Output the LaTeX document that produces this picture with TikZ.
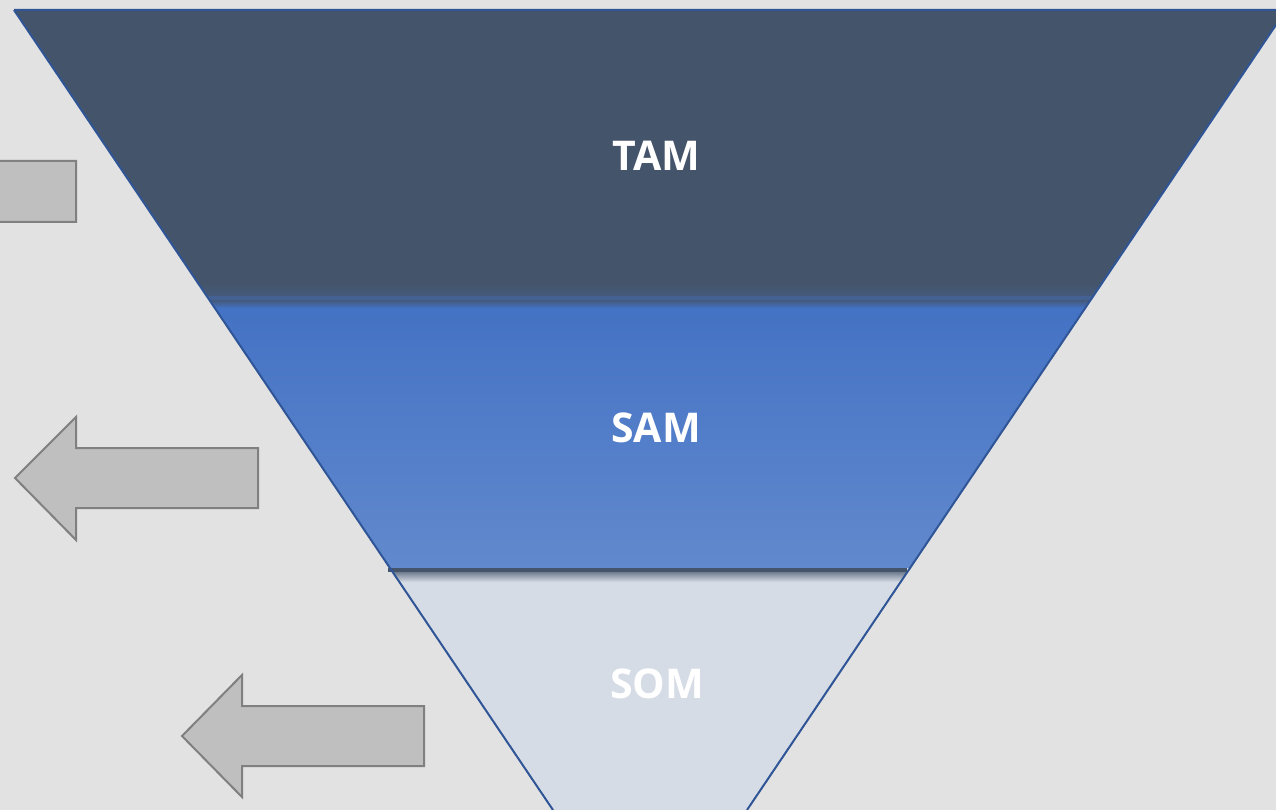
\documentclass[tikz,border=0pt]{standalone}
\usepackage{fontspec}
\setmainfont{Open Sans}
\definecolor{bg}{HTML}{E2E2E2}
\definecolor{tamc}{HTML}{44546A}
\definecolor{samtop}{HTML}{4472C4}
\definecolor{sambot}{HTML}{6189CD}
\definecolor{somc}{HTML}{D6DCE5}
\definecolor{edge}{HTML}{2F5597}
\definecolor{arrfill}{HTML}{BFBFBF}
\definecolor{arrdraw}{HTML}{808080}
\tikzset{
  lbl/.style={text=white, font=\fontsize{41}{48}\selectfont\bfseries, inner sep=0pt},
  grayarrow/.style={fill=arrfill, draw=arrdraw, line width=2pt, line join=miter},
}
\begin{document}
\begin{tikzpicture}[x=1pt,y=-1pt]
\fill[bg] (0,0) rectangle (1276,810);
\useasboundingbox (0,0) rectangle (1276,810);
\begin{scope}
\clip (0,0) rectangle (1276,810);
% funnel layers
\begin{scope}
\clip (14,10) -- (1286,10) -- (747,810) -- (553,810) -- cycle;
\fill[tamc] (0,0) rectangle (1300,300);
\shade[top color=tamc, bottom color=tamc!80!samtop] (0,283) rectangle (1300,296);
\fill[tamc!55!samtop] (0,296) rectangle (1300,300);
\shade[top color=tamc!85!samtop, bottom color=samtop] (0,300) rectangle (1300,308);
\shade[top color=samtop, bottom color=sambot] (0,308) rectangle (1300,568);
\fill[somc] (0,568) rectangle (1300,820);
\shade[top color=tamc!70!somc, bottom color=somc] (0,572) rectangle (1300,582);
\end{scope}
\fill[tamc] (388,568) rectangle (907,572);
\draw[edge, line width=2pt, line join=miter] (14,10) -- (1286,10) -- (747,810) (553,810) -- (14,10);
% arrows
\draw[grayarrow] (-167,191.5) -- (-106,130) -- (-106,161) -- (76,161) -- (76,222) -- (-106,222) -- (-106,253) -- cycle;
\draw[grayarrow] (15,478) -- (76,417) -- (76,448) -- (258,448) -- (258,508) -- (76,508) -- (76,540) -- cycle;
\draw[grayarrow] (182,736) -- (242,675) -- (242,706) -- (424,706) -- (424,766) -- (242,766) -- (242,797) -- cycle;
\end{scope}
\node[lbl] (tam) at (656,156) {TAM};
\node[lbl] (sam) at (656,428) {SAM};
\node[lbl] (som) at (657,684) {SOM};
\end{tikzpicture}
\end{document}
